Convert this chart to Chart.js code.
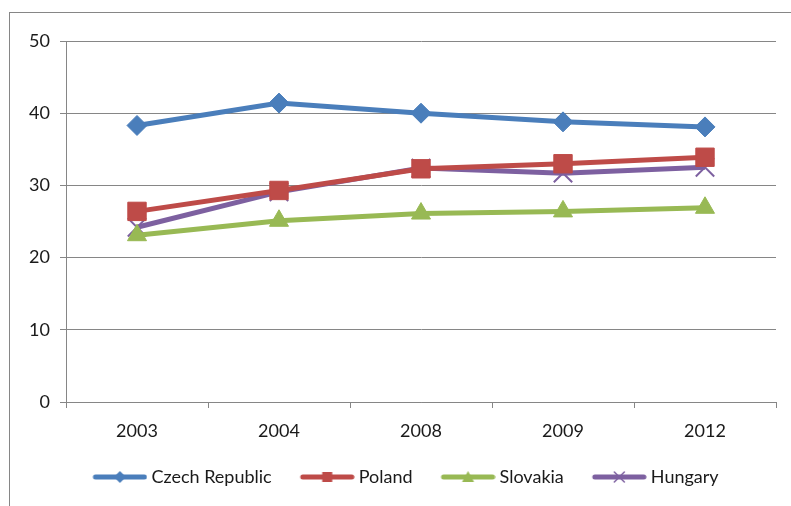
<!DOCTYPE html>
<html>
<head>
<meta charset="utf-8">
<script src="https://cdn.jsdelivr.net/npm/chart.js@4.4.0/dist/chart.umd.min.js"></script>
<style>
  html, body { margin: 0; padding: 0; background: #fff; }
  #wrap { width: 791px; height: 506px; }
</style>
</head>
<body>
<div id="wrap"><canvas id="chart" width="791" height="506"></canvas></div>
<script>
const years = ['2003', '2004', '2008', '2009', '2012'];
const czech = [38.3, 41.4, 40.0, 38.8, 38.1];
const poland = [26.4, 29.3, 32.3, 33.0, 33.9];
const slovakia = [23.1, 25.1, 26.1, 26.4, 26.9];
const hungary = [24.2, 29.1, 32.4, 31.7, 32.5];
const yTicks = [0, 10, 20, 30, 40, 50];

const FONT = 'Lato, "Open Sans", sans-serif';
const LEG_PAD = 14;
const BOX_W = 64;

// little line+marker pictures for the legend (icon sits at right end of canvas)
function legendIcon(color, style) {
    const c = document.createElement('canvas');
    c.width = BOX_W + 10; c.height = 20;
    const ctx = c.getContext('2d');
    const x0 = c.width - 55, x1 = c.width, mx = (x0 + x1) / 2;
    ctx.strokeStyle = color;
    ctx.lineWidth = 5;
    ctx.lineCap = 'round';
    ctx.beginPath();
    ctx.moveTo(x0 + 3, 10); ctx.lineTo(x1 - 3, 10);
    ctx.stroke();
    ctx.fillStyle = color;
    ctx.beginPath();
    if (style === 'diamond') {
        ctx.moveTo(mx, 4); ctx.lineTo(mx + 6, 10); ctx.lineTo(mx, 16); ctx.lineTo(mx - 6, 10);
        ctx.closePath(); ctx.fill();
    } else if (style === 'square') {
        ctx.fillRect(mx - 5, 5, 10, 10);
    } else if (style === 'triangle') {
        ctx.moveTo(mx, 4); ctx.lineTo(mx + 6, 15); ctx.lineTo(mx - 6, 15);
        ctx.closePath(); ctx.fill();
    } else {
        ctx.lineWidth = 1.5;
        ctx.moveTo(mx - 5, 5); ctx.lineTo(mx + 5, 15);
        ctx.moveTo(mx + 5, 5); ctx.lineTo(mx - 5, 15);
        ctx.stroke();
    }
    return c;
}

const series = [
    { label: 'Czech Republic', data: czech, color: '#4A7EBB', point: 'rectRot', radius: 10, icon: 'diamond' },
    { label: 'Poland', data: poland, color: '#BE4B48', point: 'rect', radius: 13, icon: 'square' },
    { label: 'Slovakia', data: slovakia, color: '#98B954', point: 'triangle', radius: 11, icon: 'triangle' },
    { label: 'Hungary', data: hungary, color: '#7D60A0', point: 'crossRot', radius: 13, icon: 'cross' }
];

const frame = {
    id: 'frame',
    beforeDraw(chart) {
        const ctx = chart.ctx;
        ctx.save();
        ctx.strokeStyle = '#868686';
        ctx.lineWidth = 1;
        ctx.strokeRect(9.5, 12.5, 800, 520);
        ctx.restore();
    }
};

new Chart(document.getElementById('chart'), {
    type: 'line',
    data: {
        labels: years,
        datasets: series.map(s => ({
            label: s.label,
            data: s.data,
            borderColor: s.color,
            backgroundColor: s.color,
            borderWidth: 5,
            pointStyle: s.point,
            pointRadius: s.radius,
            pointHoverRadius: s.radius,
            pointBackgroundColor: s.color,
            pointBorderColor: s.color,
            pointBorderWidth: s.point === 'crossRot' ? 2 : 1,
            tension: 0,
            legendIcon: legendIcon(s.color, s.icon)
        }))
    },
    options: {
        responsive: false,
        animation: false,
        layout: { padding: { left: 20, right: 14, top: 41, bottom: 10 } },
        scales: {
            x: {
                offset: true,
                afterFit: s => { s.height = 52; },
                grid: { offset: true, drawOnChartArea: false, drawTicks: true, tickLength: 6, color: '#868686' },
                border: { color: '#868686', width: 1 },
                ticks: { color: '#1a1a1a', font: { family: FONT, size: 18 }, padding: 12 }
            },
            y: {
                min: 0, max: 50,
                afterFit: s => { s.width = 46; },
                afterBuildTicks: s => { s.ticks = yTicks.map(v => ({ value: v })); },
                grid: { color: '#868686', tickLength: 6 },
                border: { color: '#868686', width: 1 },
                ticks: { color: '#1a1a1a', font: { family: FONT, size: 18 }, padding: 10 }
            }
        },
        plugins: {
            tooltip: { enabled: false },
            legend: {
                position: 'bottom',
                labels: {
                    usePointStyle: true,
                    pointStyleWidth: BOX_W,
                    padding: LEG_PAD,
                    color: '#1a1a1a',
                    font: { family: FONT, size: 18 },
                    generateLabels(chart) {
                        const items = Chart.defaults.plugins.legend.labels.generateLabels(chart);
                        items.forEach(it => { it.pointStyle = chart.data.datasets[it.datasetIndex].legendIcon; });
                        return items;
                    }
                }
            }
        }
    },
    plugins: [frame]
});
</script>
</body>
</html>
